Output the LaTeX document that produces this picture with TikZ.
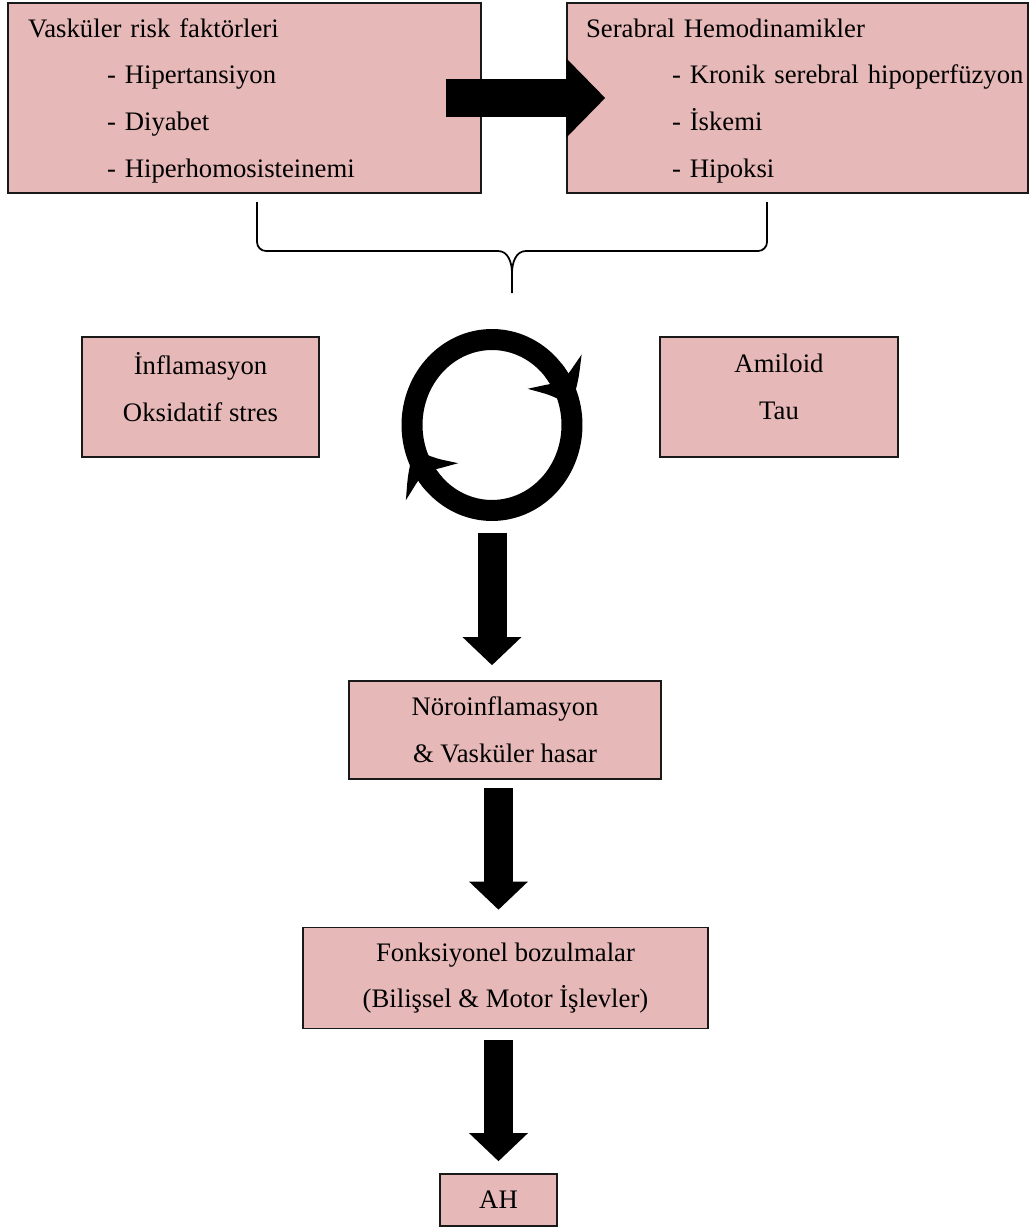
\documentclass[tikz,border=0pt]{standalone}
\usepackage{fontspec}
\setmainfont{Liberation Serif}
\usepackage{tikz}
\usetikzlibrary{arrows.meta, bending, calc}
\definecolor{boxpink}{HTML}{E6B8B7}

\begin{document}
\begin{tikzpicture}[
    x=0.02cm, y=0.02cm,
    box/.style={rectangle, draw=black!90, line width=0.9pt, fill=boxpink, text centered, align=center, inner sep=0pt, font=\fontsize{15.2}{26.6}\selectfont},
    listbox/.style={box, align=left, minimum height=3.8cm, text height=13.8pt, text depth=83.1pt},
    pairbox/.style={box, minimum width=4.75cm, minimum height=2.4cm, text depth=11.5pt},
    bigarrow/.style={line width=0.58cm, -{Triangle[width=1.14cm, length=0.56cm]}},
    sidearrow/.style={line width=0.76cm, -{Triangle[width=1.54cm, length=0.78cm]}},
    cyclearrow/.style={line width=0.42cm, -{Stealth[length=0.75cm, width=1.25cm, inset=0.25cm, bend]}},
    bracket/.style={line width=1pt}
]
\useasboundingbox (0,0) rectangle (1030,-1227);

% Nodes
\node (risk) [listbox, minimum width=9.46cm, text width=8.66cm] at (244.5,-98) {Vasküler risk faktörleri\\
\hspace*{1.58cm}- Hipertansiyon\\
\hspace*{1.58cm}- Diyabet\\
\hspace*{1.58cm}- Hiperhomosisteinemi};

\node (hemo) [listbox, minimum width=9.22cm, text width=8.46cm] at (797.5,-98) {Serabral Hemodinamikler\\
\hspace*{1.72cm}\mbox{- Kronik serebral hipoperfüzyon}\\
\hspace*{1.72cm}- İskemi\\
\hspace*{1.72cm}- Hipoksi};

\node (inflam) [pairbox] at (200.5,-397) {İnflamasyon\\Oksidatif stres};

\node (amiloid) [pairbox] at (779,-397) {Amiloid\\Tau};

\node (cycle) [circle, minimum size=3.7cm, inner sep=0pt] at (492,-425) {};

\node (neuro) [box, minimum width=6.24cm, minimum height=1.96cm] at (505,-730) {Nöroinflamasyon\\\& Vasküler hasar};

\node (fonk) [box, minimum width=8.1cm, minimum height=2.02cm] at (505.5,-978) {Fonksiyonel bozulmalar\\(Bilişsel \& Motor İşlevler)};

\node (ah) [box, minimum width=2.34cm, minimum height=1.04cm] at (498.5,-1200) {AH};

% Brace joining the two top boxes
\coordinate (braceL) at (257,-202);
\coordinate (braceR) at (767,-202);
\coordinate (braceMid) at (512,-251);
\coordinate (braceTip) at (512,-293);
\draw [bracket] (braceL) -- ++(0,-40) to[out=-90,in=180] ++(9,-9) -- ($(braceMid)+(-14,0)$) to[out=0,in=90] ($(braceMid)+(0,-22)$) -- (braceTip);
\draw [bracket] (braceR) -- ++(0,-40) to[out=-90,in=0] ++(-9,-9) -- ($(braceMid)+(14,0)$) to[out=180,in=90] ($(braceMid)+(0,-22)$);

% Cycle arrows
\draw [cyclearrow] ($(cycle.center)+(224:1.6cm and 1.71cm)$) arc[start angle=224, end angle=13, x radius=1.6cm, y radius=1.71cm];
\draw [cyclearrow] ($(cycle.center)+(40:1.6cm and 1.71cm)$) arc[start angle=40, end angle=-164, x radius=1.6cm, y radius=1.71cm];

% Arrows
\draw [sidearrow] ($(risk.east)+(-36,0)$) -- ($(hemo.west)+(39,0)$);
\draw [bigarrow, shorten <=0.31cm, shorten >=0.3cm] (cycle.south) -- (cycle.south |- neuro.north);
\draw [bigarrow, shorten <=0.16cm, shorten >=0.34cm] (neuro.south -| ah.north) -- (fonk.north -| ah.north);
\draw [bigarrow, shorten <=0.22cm, shorten >=0.24cm] (fonk.south -| ah.north) -- (ah.north);

\end{tikzpicture}
\end{document}
